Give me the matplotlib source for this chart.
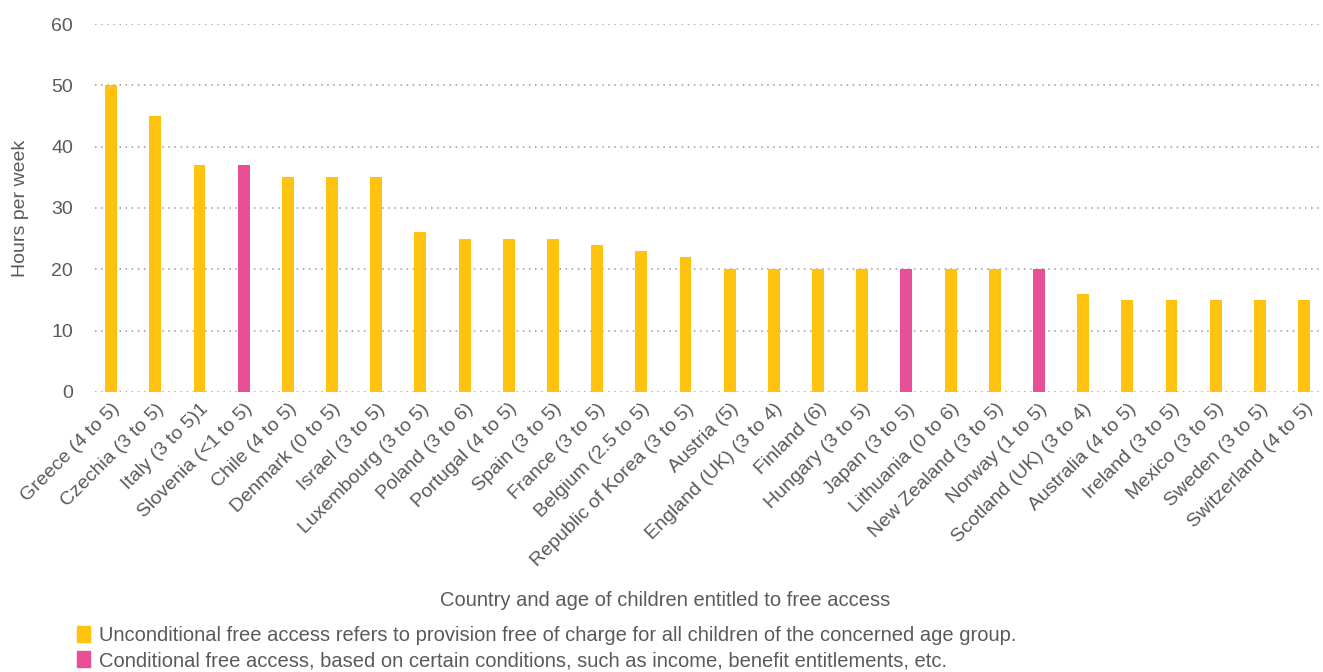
import matplotlib
matplotlib.use("Agg")
import matplotlib.pyplot as plt
from matplotlib.patches import Patch

# data
countries = ["Greece (4 to 5)", "Czechia (3 to 5)", "Italy (3 to 5)1", "Slovenia (<1 to 5)",
             "Chile (4 to 5)", "Denmark (0 to 5)", "Israel (3 to 5)", "Luxembourg (3 to 5)",
             "Poland (3 to 6)", "Portugal (4 to 5)", "Spain (3 to 5)", "France (3 to 5)",
             "Belgium (2.5 to 5)", "Republic of Korea (3 to 5)", "Austria (5)",
             "England (UK) (3 to 4)", "Finland (6)", "Hungary (3 to 5)", "Japan (3 to 5)",
             "Lithuania (0 to 6)", "New Zealand (3 to 5)", "Norway (1 to 5)",
             "Scotland (UK) (3 to 4)", "Australia (4 to 5)", "Ireland (3 to 5)",
             "Mexico (3 to 5)", "Sweden (3 to 5)", "Switzerland (4 to 5)"]
hours = [50, 45, 37, 37, 35, 35, 35, 26, 25, 25, 25, 24, 23, 22, 20,
         20, 20, 20, 20, 20, 20, 20, 16, 15, 15, 15, 15, 15]
conditional = ["Slovenia (<1 to 5)", "Japan (3 to 5)", "Norway (1 to 5)"]

yellow = "#FFC20E"
pink = "#E94F97"
txt = "#5a5a5a"

plt.rcParams['font.family'] = ['Liberation Sans', 'DejaVu Sans']

fig = plt.figure(figsize=(13.23, 6.72), dpi=100)
ax = fig.add_axes([0.072, 0.417, 0.928, 0.547])

colors = [pink if c in conditional else yellow for c in countries]
x = range(len(countries))
ax.bar(x, hours, width=0.27, color=colors, zorder=3)

ax.set_ylim(0, 60)
ax.set_xlim(-0.36, len(countries) - 0.57)
ax.set_yticks(range(0, 61, 10))
ax.yaxis.grid(True, linestyle=(0, (1, 3)), color="#999999", linewidth=1.1)
ax.set_axisbelow(True)
for s in ax.spines.values():
    s.set_visible(False)
ax.tick_params(length=0, colors=txt, labelsize=14)
ax.tick_params(axis='y', pad=16)

ax.set_xticks(list(x))
ax.set_xticklabels(countries, rotation=45, ha='right', rotation_mode='anchor',
                   fontsize=14, color=txt)
ax.tick_params(axis='x', pad=6)

ax.set_ylabel("Hours per week", fontsize=14, color=txt, labelpad=16)
fig.text(0.503, 0.107, "Country and age of children entitled to free access",
         ha='center', va='center', fontsize=14.5, color=txt)

handles = [Patch(color=yellow), Patch(color=pink)]
labels = ["Unconditional free access refers to provision free of charge for all children of the concerned age group.",
          "Conditional free access, based on certain conditions, such as income, benefit entitlements, etc."]
fig.legend(handles, labels, loc='upper left', bbox_to_anchor=(0.058, 0.068),
           frameon=False, handlelength=0.65, handleheight=0.85, handletextpad=0.45,
           labelspacing=0.3, borderaxespad=0, borderpad=0,
           prop={'family': ['Liberation Sans Narrow', 'Liberation Sans'], 'size': 14.5},
           labelcolor=txt)

fig.savefig("out.png", dpi=100)
